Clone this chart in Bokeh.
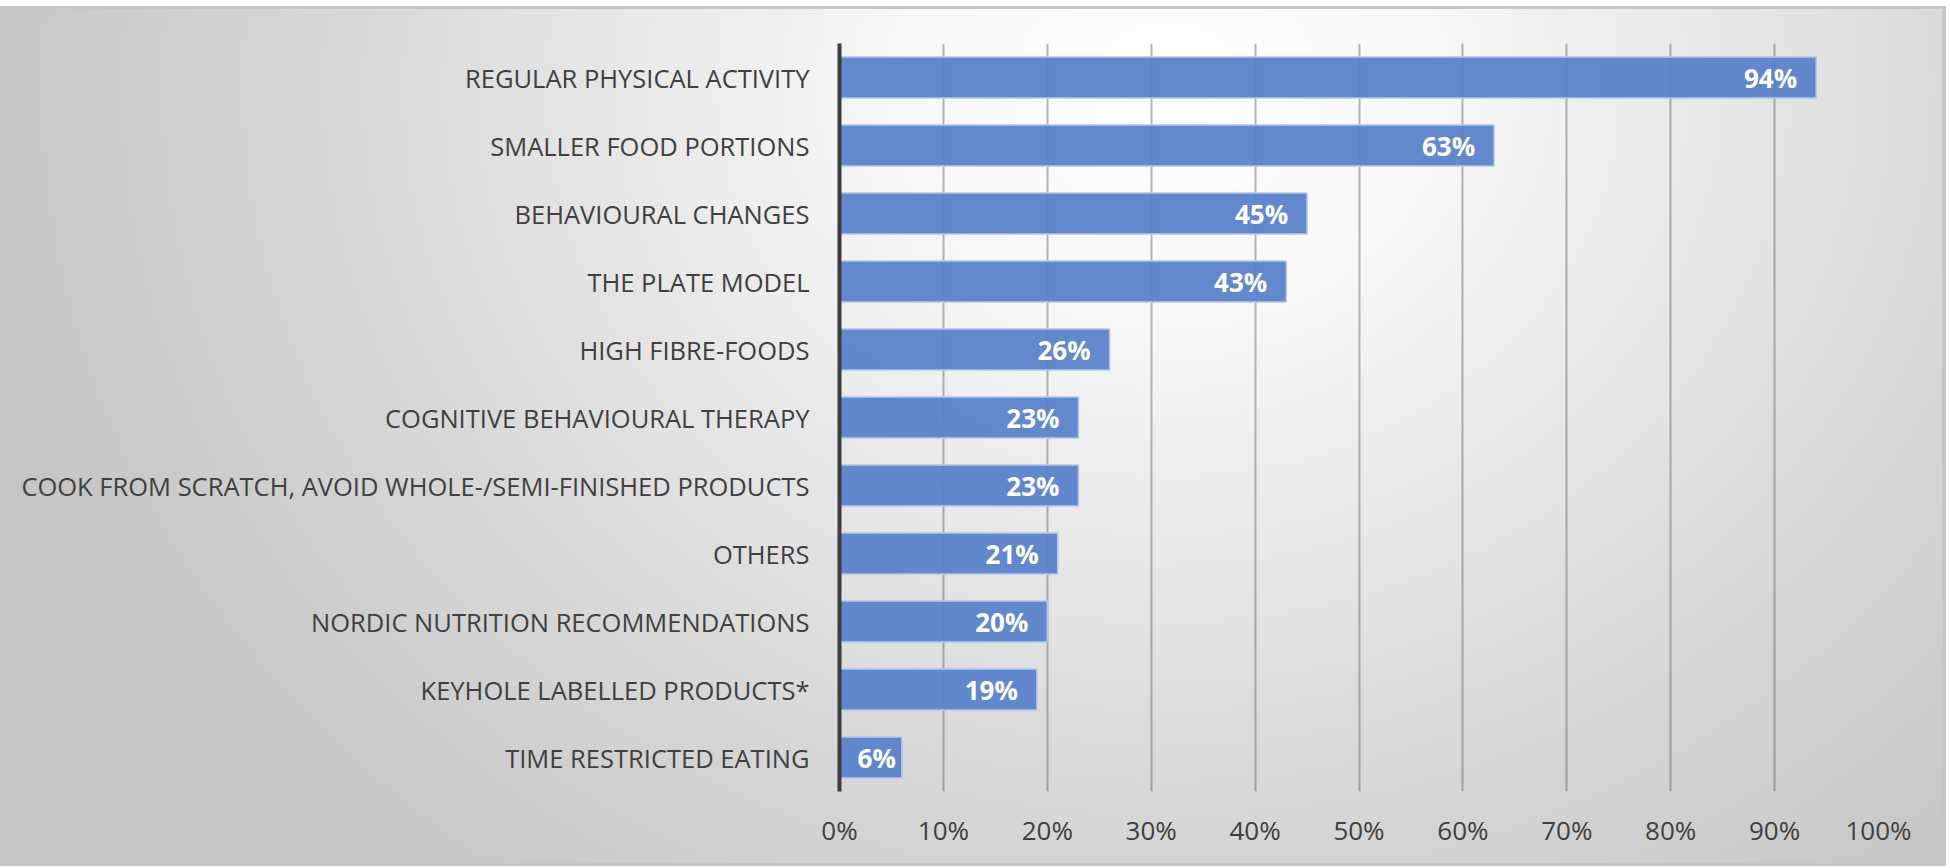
from bokeh.plotting import figure
from bokeh.models import ColumnDataSource, FactorRange, Range1d, FixedTicker, NumeralTickFormatter
from bokeh.core.properties import value
from bokeh.embed import file_html
from bokeh.resources import INLINE

categories = [
    "REGULAR PHYSICAL ACTIVITY",
    "SMALLER FOOD PORTIONS",
    "BEHAVIOURAL CHANGES",
    "THE PLATE MODEL",
    "HIGH FIBRE-FOODS",
    "COGNITIVE BEHAVIOURAL THERAPY",
    "COOK FROM SCRATCH, AVOID WHOLE-/SEMI-FINISHED PRODUCTS",
    "OTHERS",
    "NORDIC NUTRITION RECOMMENDATIONS",
    "KEYHOLE LABELLED PRODUCTS*",
    "TIME RESTRICTED EATING",
]
shares = [0.94, 0.63, 0.45, 0.43, 0.26, 0.23, 0.23, 0.21, 0.20, 0.19, 0.06]
x_ticks = [0.0, 0.1, 0.2, 0.3, 0.4, 0.5, 0.6, 0.7, 0.8, 0.9, 1.0]

FONT = "Open Sans"
TXT = "#404040"

labels = [f"{round(v * 100)}%" for v in shares]
src = ColumnDataSource(dict(cat=categories, val=shares, lab=labels))

# labels inside end of bar; too-short bars get a centred label
big = [i for i, v in enumerate(shares) if v >= 0.1]
small = [i for i, v in enumerate(shares) if v < 0.1]
src_big = ColumnDataSource(dict(cat=[categories[i] for i in big],
                                x=[shares[i] for i in big],
                                lab=[labels[i] for i in big]))
src_small = ColumnDataSource(dict(cat=[categories[i] for i in small],
                                  x=[shares[i] / 2 for i in small],
                                  lab=[labels[i] for i in small]))

p = figure(
    width=1946, height=866,
    y_range=FactorRange(*list(reversed(categories))),
    x_range=Range1d(0, 1.0),
    output_backend="svg", toolbar_location=None,
    min_border_left=839, min_border_right=68,
    min_border_top=43, min_border_bottom=75,
)
p.background_fill_color = None
p.border_fill_color = None
p.outline_line_color = None
p.styles = {
    "background-image": "radial-gradient(ellipse 62% 120% at 60% 10%, #ffffff 0%, #f8f8f8 22%, #dddddd 60%, #c5c5c5 100%)",
    "box-shadow": "inset 0 6px 0 #ffffff, inset 0 9px 0 #c6c6c6, inset -4px 0 0 #c6c6c6, inset 0 -3px 0 #c6c6c6",
}

p.hbar(y="cat", right="val", left=0, height=0.6, source=src,
       fill_color="#5a83ca", fill_alpha=0.95,
       line_color="#b3c6ea", line_width=1.5)

p.text(x="x", y="cat", text="lab", source=src_big,
       text_align="right", text_baseline="middle", x_offset=-19,
       text_color="white", text_font=value(FONT), text_font_style="bold",
       text_font_size="26px")
p.text(x="x", y="cat", text="lab", source=src_small,
       text_align="center", text_baseline="middle", x_offset=6,
       text_color="white", text_font=value(FONT), text_font_style="bold",
       text_font_size="26px")

# x axis
p.xaxis.ticker = FixedTicker(ticks=x_ticks)
p.xaxis.formatter = NumeralTickFormatter(format="0%")
p.xaxis.axis_line_color = None
p.xaxis.major_tick_line_color = None
p.xaxis.minor_tick_line_color = None
p.xaxis.major_label_standoff = 14
p.xaxis.major_label_text_font = FONT
p.xaxis.major_label_text_font_size = "26px"
p.xaxis.major_label_text_color = TXT

# y axis
p.yaxis.axis_line_color = "#3c3c3c"
p.yaxis.axis_line_width = 4
p.yaxis.major_tick_line_color = None
p.yaxis.minor_tick_line_color = None
p.yaxis.major_label_standoff = 24
p.yaxis.major_label_text_font = FONT
p.yaxis.major_label_text_font_size = "25.5px"
p.yaxis.major_label_text_color = TXT

p.xgrid.ticker = FixedTicker(ticks=x_ticks)
p.xgrid.grid_line_color = "#4a4a4a"
p.xgrid.grid_line_alpha = 0.4
p.xgrid.grid_line_width = 2
p.ygrid.grid_line_color = None

open("out.html", "w").write(file_html(p, INLINE))
